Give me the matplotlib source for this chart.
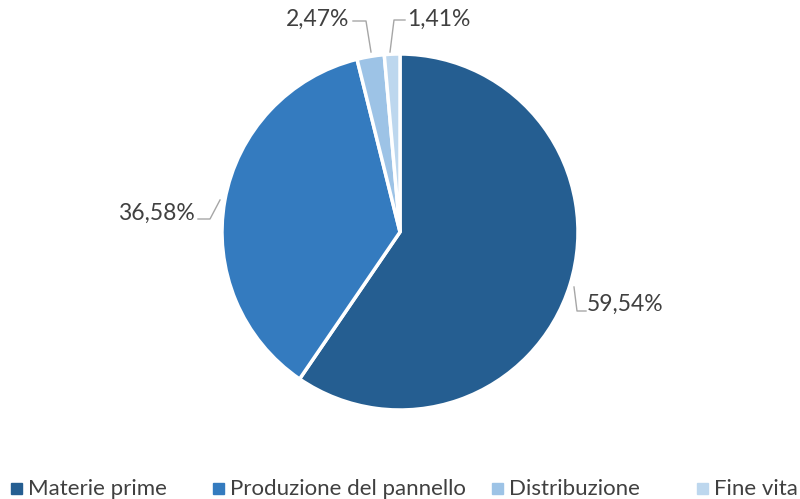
import matplotlib.pyplot as plt
from matplotlib.patches import Rectangle

# dati
categorie = ["Materie prime", "Produzione del pannello", "Distribuzione", "Fine vita"]
valori = [59.54, 36.58, 2.47, 1.41]
etichette = ["59,54%", "36,58%", "2,47%", "1,41%"]
colori = ["#255e91", "#347bbf", "#9dc3e6", "#bdd7ee"]

plt.rcParams['font.family'] = ['Lato', 'DejaVu Sans']

fig = plt.figure(figsize=(8.0, 4.99), dpi=100)
ax = fig.add_axes([0, 0, 1, 1])

cx, cy, r = 400, 267, 178
wedges, _ = ax.pie(valori, colors=colori, startangle=90, counterclock=False,
                   center=(cx, cy), radius=r, frame=True,
                   wedgeprops=dict(edgecolor="white", linewidth=2.5))
ax.set_xlim(0, 800)
ax.set_ylim(0, 499)
ax.axis("off")

# etichette con linee guida
linee = [
    [(574, 212), (577, 188), (586, 188)],
    [(220, 299), (210, 280), (198, 280)],
    [(371, 447), (366, 478), (353, 478)],
    [(390, 447), (394, 479), (405, 479)],
]
testi = [(587, 195, "left"), (195, 286, "right"), (349, 480, "right"), (407, 480, "left")]
for pts, (tx, ty, ha), lab in zip(linee, testi, etichette):
    xs, ys = zip(*pts)
    ax.plot(xs, ys, color="#a6a6a6", linewidth=1)
    ax.text(tx, ty, lab, ha=ha, va="center", fontsize=16.5, color="#404040")

# legenda
leg_x = [17, 219, 498, 703]
for x, cat, col in zip(leg_x, categorie, colori):
    ax.add_patch(Rectangle((x - 6, 5), 11, 11, color=col))
    ax.text(x + 11, 10, cat, ha="left", va="center", fontsize=16, color="#404040")

plt.savefig("out.png", dpi=100)
